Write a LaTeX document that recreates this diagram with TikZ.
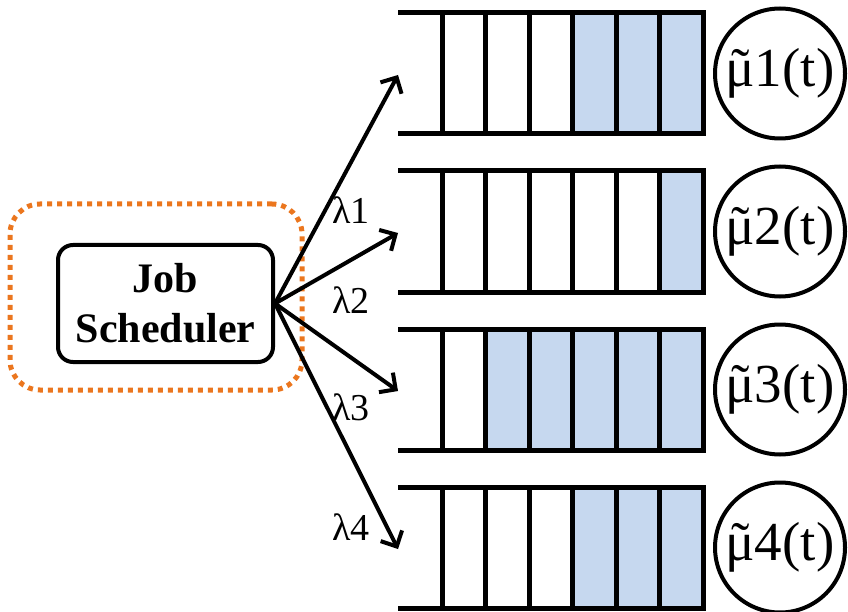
\documentclass[tikz,border=0pt]{standalone}
\usepackage{fontspec}
\setmainfont{Liberation Serif}
\usepackage{tikz}
\usetikzlibrary{arrows.meta, positioning}
\definecolor{schedorange}{RGB}{235,118,30}
\definecolor{cellblue}{RGB}{198,216,239}
\newcommand{\mutil}{\ooalign{μ\cr\hfil\char"02DC\hfil\cr}}
\tikzset{
  schedbox/.style={rectangle, rounded corners=15pt, draw, line width=4pt,
    minimum width=215pt, minimum height=117pt, align=center,
    font=\fontsize{42}{50}\selectfont\bfseries},
  framebox/.style={rectangle, rounded corners=30pt, draw=schedorange,
    line width=5pt, dash pattern=on 5pt off 5pt,
    minimum width=292pt, minimum height=186pt},
  server/.style={circle, draw, line width=4pt, minimum size=130pt,
    inner sep=0pt, font=\fontsize{55}{55}\selectfont},
  rate/.style={font=\fontsize{38}{38}\selectfont, inner sep=0pt},
  qline/.style={line width=5pt},
  arrow/.style={-{Straight Barb[length=12pt, width=24pt]}, line width=4pt},
}
\begin{document}
\begin{tikzpicture}[x=1pt, y=-1pt]
  \useasboundingbox (0,0) rectangle (848,612);
  \node[framebox] (frame) at (156,297) {};
  \node[schedbox] (sched) at (165.5,303.5) {Job\\Scheduler};
  % queues: top edge / index / busy cells
  \foreach \y/\n/\k in {13/1/3, 171/2/1, 329/3/5, 487/4/3} {
    \fill[cellblue] ({703-43.5*\k},\y) rectangle (703,\y+121);
    \draw[qline] (398,\y) -- (705.5,\y);
    \draw[qline] (398,\y+121) -- (705.5,\y+121);
    \foreach \i in {0,...,6}
      \draw[qline] (442+43.5*\i,\y) -- (442+43.5*\i,\y+121);
    \coordinate (in\n) at (398,\y+62);
    \node[server] (srv\n) at (780,\y+60.5) {\mutil\n(t)};
    \draw[arrow] (sched.east) -- (in\n);
  }
  \node[rate] (lam1) at (351,210) {λ1};
  \node[rate] (lam2) at (351,300) {λ2};
  \node[rate] (lam3) at (351,407) {λ3};
  \node[rate] (lam4) at (351,527) {λ4};
\end{tikzpicture}
\end{document}
